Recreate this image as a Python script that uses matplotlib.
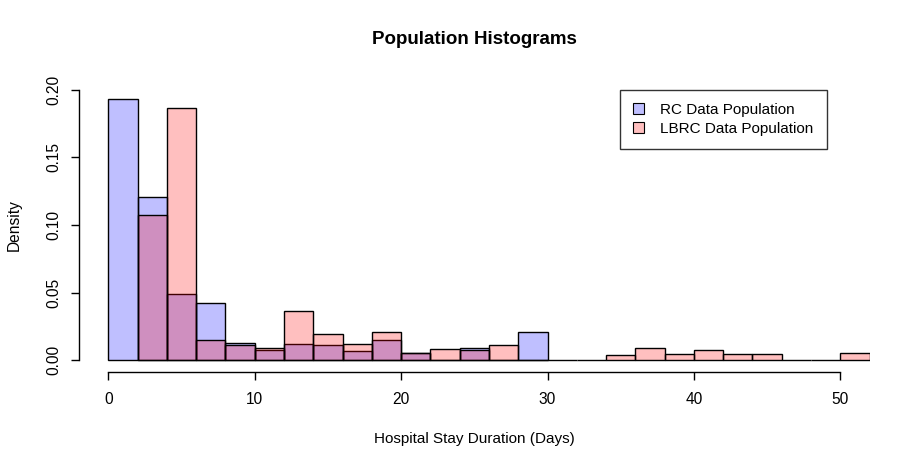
import matplotlib
matplotlib.use("Agg")
from matplotlib import pyplot as plt
from matplotlib.patches import Patch

plt.rcParams['font.family'] = ['Liberation Sans', 'DejaVu Sans']

# histogram densities, bins 2 days wide
rc_breaks = list(range(0, 30, 2))
rc_density = [0.193, 0.1206, 0.049, 0.0424, 0.0128, 0.0079, 0.0121, 0.011,
              0.0072, 0.015, 0.0054, 0.0, 0.0091, 0.0, 0.021]
lbrc_breaks = list(range(2, 52, 2))
lbrc_density = [0.1073, 0.1863, 0.015, 0.011, 0.0091, 0.0367, 0.0195, 0.0121,
                0.021, 0.0054, 0.0084, 0.0077, 0.0114, 0.0, 0.0, 0.0,
                0.0042, 0.0091, 0.0049, 0.0077, 0.0049, 0.0049, 0.0, 0.0, 0.0057]
x_ticks = [0, 10, 20, 30, 40, 50]
y_ticks = [0.00, 0.05, 0.10, 0.15, 0.20]
labels = ["RC Data Population", "LBRC Data Population"]

blue = (0, 0, 1, 0.25)
red = (1, 0, 0, 0.25)

W, H = 910, 469
fig = plt.figure(figsize=(W / 100, H / 100), dpi=100)
ax = fig.add_axes([79 / W, 1 - 371.1 / H, (869.6 - 79) / W, (371.1 - 78.9) / H])

ax.bar(rc_breaks, rc_density, width=2, align='edge', color=blue,
       edgecolor='black', linewidth=1.0)
ax.bar(lbrc_breaks, lbrc_density, width=2, align='edge', color=red,
       edgecolor='black', linewidth=1.0)

ax.set_xlim(-2, 52)
ax.set_ylim(-0.008, 0.208)

for s in ['top', 'right']:
    ax.spines[s].set_visible(False)
ax.spines['left'].set_bounds(0, 0.2)
ax.spines['bottom'].set_bounds(0, 50)
ax.spines['bottom'].set_position(('outward', 1))
for s in ['left', 'bottom']:
    ax.spines[s].set_linewidth(1.0)

ax.set_xticks(x_ticks)
ax.set_xticklabels([str(v) for v in x_ticks])
ax.set_yticks(y_ticks)
ax.set_yticklabels(["%.2f" % v for v in y_ticks], rotation=90, va='center')
ax.tick_params(axis='both', length=6, width=1.0, labelsize=11.2)
ax.tick_params(axis='x', pad=8)
ax.tick_params(axis='y', pad=7)

cx = (79 + 869.6) / 2 / W
fig.text(cx, 1 - 40 / H, "Population Histograms", ha='center', va='center',
         fontsize=13.5, fontweight='bold')
fig.text(cx, 1 - 439 / H, "Hospital Stay Duration (Days)", ha='center',
         va='center', fontsize=11)
fig.text(14 / W, 1 - 225 / H, "Density", ha='center', va='center',
         rotation=90, fontsize=11.2)

handles = [Patch(facecolor=blue, edgecolor='black', linewidth=0.8),
           Patch(facecolor=red, edgecolor='black', linewidth=0.8)]
leg = fig.legend(handles, labels, loc='upper left',
                 bbox_to_anchor=(620 / W, 1 - 90 / H), borderaxespad=0,
                 fancybox=False, fontsize=11, handlelength=0.7,
                 handleheight=0.7, handletextpad=1.1, labelspacing=0.32,
                 borderpad=0.85)
leg.get_frame().set_edgecolor('black')
leg.get_frame().set_linewidth(1.0)

fig.savefig("out.png", dpi=100)
